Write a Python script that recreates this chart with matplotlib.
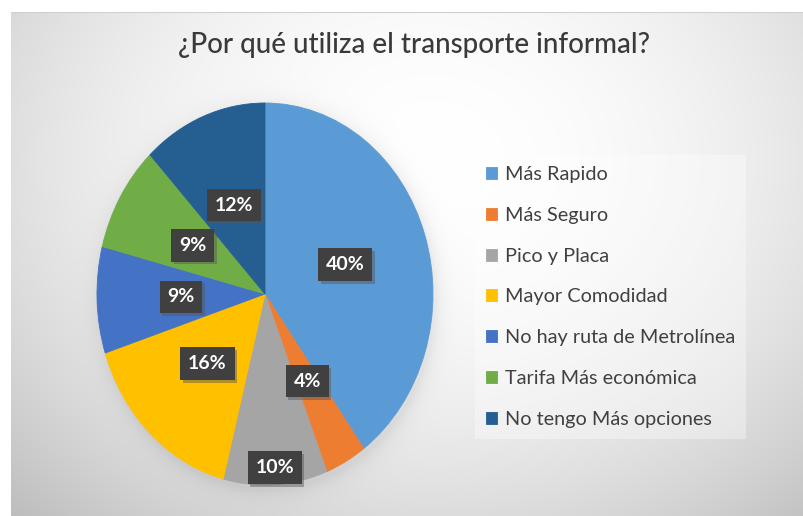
import numpy as np
import matplotlib
matplotlib.use('Agg')
import matplotlib.pyplot as plt
from matplotlib import patheffects

plt.rcParams['font.family'] = ['Lato', 'DejaVu Sans']

titulo = '¿Por qué utiliza el transporte informal?'
razones = ['Más Rapido', 'Más Seguro', 'Pico y Placa', 'Mayor Comodidad',
           'No hay ruta de Metrolínea', 'Tarifa Más económica',
           'No tengo Más opciones']
porcentajes = [40, 4, 10, 16, 9, 9, 12]
colores = ['#5B9BD5', '#ED7D31', '#A5A5A5', '#FFC000', '#4472C4', '#70AD47', '#255E91']
# distancia de cada etiqueta al centro (fraccion del radio)
dist_etiqueta = [0.5, 0.52, 0.91, 0.5, 0.5, 0.5, 0.5]

W, H = 804, 516
fig = plt.figure(figsize=(W / 100, H / 100), dpi=100)
fig.patch.set_facecolor('white')

# fondo con degradado radial del area del grafico
x0, y0 = 11, 12
bg = fig.add_axes([x0 / W, 0, 1 - x0 / W, 1 - y0 / H])
bg.set_axis_off()
yy, xx = np.mgrid[y0:H, x0:W].astype(float)
d2 = ((xx - 430) / 520) ** 2 + ((yy - 160) / 420) ** 2
val = 1 - 0.19 * d2
# sombra suave alrededor del circulo
r = np.sqrt(((xx - 267) / 168) ** 2 + ((yy - 298) / 191) ** 2)
val -= 0.07 * np.exp(-np.clip(r - 1, 0, None) * 20) * (r > 0.9)
val = np.clip(val, 0, 1)
img = np.dstack([val, val, val])
bg.imshow(img, extent=[0, 1, 0, 1], aspect='auto', interpolation='bilinear')
bg.set_xlim(0, 1)
bg.set_ylim(0, 1)
bg.axhline(1, color='#cfcfcf', lw=1.5)

# circulo
ax = fig.add_axes([97 / W, 31 / H, 336 / W, 382 / H])
wedges, _ = ax.pie(porcentajes, colors=colores, startangle=90, counterclock=False,
                   wedgeprops=dict(linewidth=0.6, edgecolor='none'))
for w, c in zip(wedges, colores):
    w.set_edgecolor(c)
ax.set_xlim(-1, 1)
ax.set_ylim(-1, 1)
ax.set_aspect('auto')
ax.set_axis_off()

for w, p, d in zip(wedges, porcentajes, dist_etiqueta):
    ang = np.deg2rad((w.theta1 + w.theta2) / 2)
    x, y = d * np.cos(ang), d * np.sin(ang)
    t = ax.text(x, y, f'{p}%', ha='center', va='center', fontsize=14, fontweight='bold',
                color='white',
                bbox=dict(boxstyle='square,pad=0.4', fc='#404040', ec='none'))
    t.get_bbox_patch().set_path_effects([
        patheffects.SimplePatchShadow(offset=(2, -2), shadow_rgbFace='#555555', alpha=0.45),
        patheffects.Normal()])

fig.text(414 / W, 1 - 45 / H, titulo, ha='center', va='center',
         fontsize=20, color='#3a3a3a', fontweight='medium')

leg = fig.legend(wedges, razones, loc='upper left',
                 bbox_to_anchor=(475 / W, 1 - 155 / H), fontsize=14.3,
                 frameon=True, fancybox=False, labelspacing=1.2,
                 handlelength=0.55, handleheight=0.55, handletextpad=0.4,
                 borderpad=0.55, borderaxespad=0)
leg.get_frame().set_facecolor('white')
leg.get_frame().set_alpha(0.35)
leg.get_frame().set_edgecolor('none')
for t in leg.get_texts():
    t.set_color('#404040')

fig.savefig('out.png', dpi=100)
